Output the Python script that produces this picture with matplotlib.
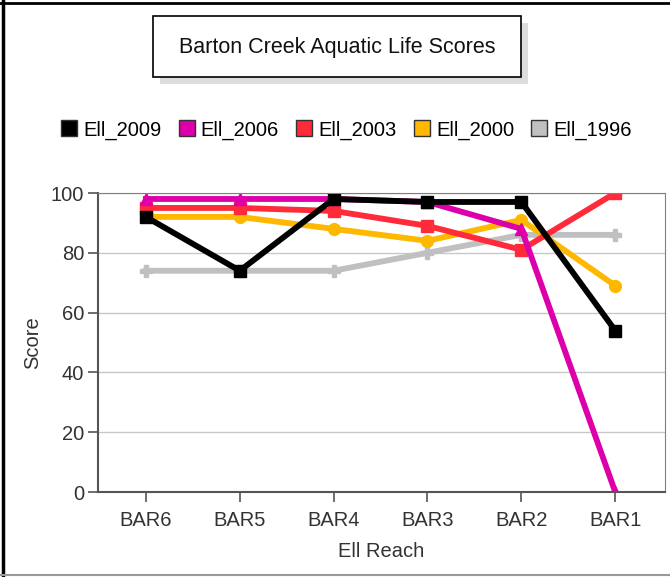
import matplotlib
matplotlib.use('Agg')
import matplotlib.pyplot as plt
from matplotlib.patches import Rectangle
from matplotlib.lines import Line2D

plt.rcParams['font.family'] = ['Liberation Sans', 'DejaVu Sans']

reaches = ['BAR6', 'BAR5', 'BAR4', 'BAR3', 'BAR2', 'BAR1']
ell_2009 = [92, 74, 98, 97, 97, 54]
ell_2006 = [98, 98, 98, 97, 88, 0]
ell_2003 = [95, 95, 94, 89, 81, 100]
ell_2000 = [92, 92, 88, 84, 91, 69]
ell_1996 = [74, 74, 74, 80, 86, 86]

names = ['Ell_2009', 'Ell_2006', 'Ell_2003', 'Ell_2000', 'Ell_1996']
series = [ell_2009, ell_2006, ell_2003, ell_2000, ell_1996]
colors = ['#000000', '#dd00aa', '#ff2a3a', '#ffb800', '#c0c0c0']
markers = ['s', '^', 's', 'o', 'P']

fig = plt.figure(figsize=(6.7, 5.77), dpi=100)
ax = fig.add_axes([98/670, 1-492/577, 567/670, 299/577])

x = list(range(len(reaches)))
# oldest first so 2009 ends up on top
for vals, c, m in reversed(list(zip(series, colors, markers))):
    ax.plot(x, vals, color=c, lw=4.2, marker=m, ms=8.5, mec=c, mfc=c)

ax.set_xlim(-0.51, 5.53)
ax.set_ylim(0, 100)
ax.set_yticks([0, 20, 40, 60, 80, 100])
ax.set_xticks(x)
ax.set_xticklabels(reaches)
ax.yaxis.grid(True, color='#c8c8c8', lw=1)
ax.set_axisbelow(True)
for s in ax.spines.values():
    s.set_color('#808080')
ax.spines['left'].set_color('#555555')
ax.spines['bottom'].set_color('#555555')
ax.spines['left'].set_linewidth(1.5)
ax.spines['bottom'].set_linewidth(1.5)
ax.tick_params(direction='out', length=7, width=1.2, color='#555555',
               labelsize=14.5, labelcolor='#333333', pad=3)
ax.tick_params(axis='x', pad=7)
ax.set_xlabel('Ell Reach', fontsize=14.5, color='#333333', labelpad=8)
ax.set_ylabel('Score', fontsize=14.5, color='#333333', labelpad=6)

# title box with shadow
fig.patches.append(Rectangle((160/670, 1-84/577), 368/670, 61/577, transform=fig.transFigure,
                             facecolor='#dddddd', edgecolor='none', zorder=1))
fig.patches.append(Rectangle((153/670, 1-77/577), 368/670, 61/577, transform=fig.transFigure,
                             facecolor='white', edgecolor='black', lw=1.2, zorder=2))
fig.text(337/670, 1-47/577, 'Barton Creek Aquatic Life Scores', ha='center', va='center',
         fontsize=15.5, color='#111111', zorder=3)

handles = [Line2D([], [], ls='none', marker='s', ms=11, mfc=c, mec='#333333', mew=1)
           for c in colors]
fig.legend(handles, names, loc='center', bbox_to_anchor=(347/670, 1-130/577), ncol=5,
           frameon=False, fontsize=14.5, handlelength=0.7, handletextpad=0.35,
           columnspacing=0.9)

# outer frame
fig.add_artist(Line2D([3/670, 3/670], [0, 1], transform=fig.transFigure, color='black', lw=2.5))
fig.add_artist(Line2D([0, 1], [1-3/577, 1-3/577], transform=fig.transFigure, color='black', lw=2))
fig.add_artist(Line2D([0, 1], [2/577, 2/577], transform=fig.transFigure, color='#999999', lw=1.5))

fig.savefig('out.png', dpi=100)
